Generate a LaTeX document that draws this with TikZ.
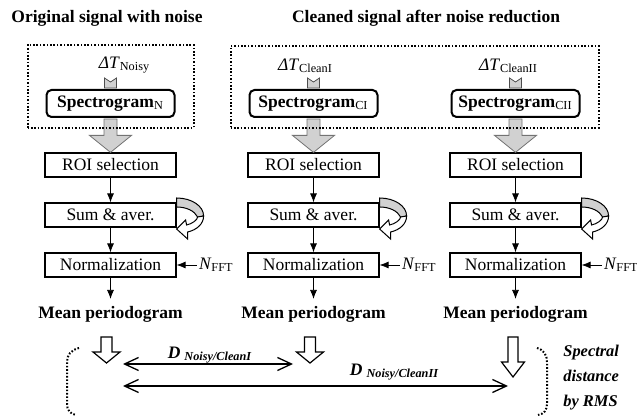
\documentclass[tikz,border=0pt]{standalone}
\usepackage{fontspec}
\setmainfont{Liberation Serif}
\usetikzlibrary{positioning,fit,calc,arrows.meta}

\newcommand{\figsize}{\fontsize{8.75}{10.5}\selectfont}

\tikzset{
  stage/.style={draw, line width=0.6pt, minimum width=65.5pt, minimum height=12pt, inner sep=0pt, font=\figsize},
  specbox/.style={draw, line width=1pt, rounded corners=2.5pt, minimum width=64pt, minimum height=13.5pt, inner sep=0pt, font=\figsize\bfseries},
  heading/.style={font=\figsize\bfseries},
  plain/.style={font=\figsize, inner sep=1pt},
  dlabel/.style={font=\figsize\bfseries\itshape, inner sep=1pt},
  rms/.style={font=\fontsize{8.2}{12.5}\selectfont\bfseries\itshape, align=left, inner sep=1pt},
  dotbox/.style={draw, line width=1pt, dash pattern=on 0.8pt off 0.9pt, inner xsep=9pt, inner ysep=5pt},
  bracket/.style={line width=1pt, dash pattern=on 0.8pt off 0.9pt},
  fatlink/.style={fill=black!18, draw=black!55, line width=0.4pt,
    to path={($(\tikztostart.south)+(-6.5,-1)$) -- ($(\tikztotarget.north)+(-6.5,17)$)
      -- ++(-14.5,0) -- (\tikztotarget.north) -- ++(21,17) -- ++(-14.5,0)
      -- ($(\tikztostart.south)+(6.5,-1)$) -- cycle}},
  taillink/.style={fill=black!18, draw=black!70, line width=0.4pt,
    to path={($(\tikztotarget.north)+(-6,1)$) -- ++(0,10) -- ++(6,-4) -- ++(6,4) -- ++(0,-10) -- cycle}},
  distarrow/.style={line width=0.65pt, {Straight Barb[length=7pt,width=6.5pt]}-{Straight Barb[length=7pt,width=6.5pt]}},
  pics/loopback/.style={code={
    \draw[fill=black!18, line width=0.5pt] (0,17) .. controls (15,17) and (27,9) .. (27,-1) -- (21,-2) .. controls (18,4) and (10,8) .. (0,8) -- cycle;
    \draw[fill=white, line width=0.5pt] (27,-1) .. controls (27,-9) and (20,-15) .. (11,-17) -- (11,-24) -- (0,-14) -- (9,-5) -- (10,-10) .. controls (15,-9) and (21,-5) .. (21,-2) -- cycle;
  }},
  pics/hollow/.style n args={4}{code={
    \draw[fill=white, line width=0.6pt] (-#3,0) -- (-#3,-#1) -- (-#4,-#1) -- (0,-#1-#2) -- (#4,-#1) -- (#3,-#1) -- (#3,0) -- cycle;
    \coordinate (-tip) at (0,-#1-#2);
  }}
}

\begin{document}
\begin{tikzpicture}[x=0.5pt,y=0.5pt,node distance=25pt,>={Latex[length=4.5pt,width=3.5pt]}]
    \useasboundingbox (0,0) rectangle (637,-416);

    \node[heading] (title1) at (107,-18) {Original signal with noise};
    \node[heading] (title2) at (426,-18) {Cleaned signal after noise reduction};

    \node[stage] (roi1) at (110.5,-165) {ROI selection};
    \node[stage] (roi2) [right of=roi1, node distance=101.5pt] {ROI selection};
    \node[stage] (roi3) [right of=roi2, node distance=101pt] {ROI selection};

    \node[specbox] (spec1) [above of=roi1, node distance=30.75pt] {Spectrogram\textsubscript{\mdseries N}};
    \node[specbox] (spec2) [above of=roi2, node distance=30.75pt] {Spectrogram\textsubscript{\mdseries CI}};
    \node[specbox] (spec3) [above of=roi3, node distance=30.75pt] {Spectrogram\textsubscript{\mdseries CII}};

    \node[plain] (dT1) [above of=spec1, node distance=19pt, xshift=7pt] {\textit{ΔT}\textsubscript{Noisy}};
    \node[plain] (dT2) [above of=spec2, node distance=19pt, xshift=-4pt] {\textit{ΔT}\textsubscript{CleanI}};
    \node[plain] (dT3) [above of=spec3, node distance=19pt, xshift=-3.5pt] {\textit{ΔT}\textsubscript{CleanII}};

    \node[stage] (sum1) [below of=roi1] {Sum \& aver.};
    \node[stage] (sum2) [below of=roi2] {Sum \& aver.};
    \node[stage] (sum3) [below of=roi3] {Sum \& aver.};

    \node[stage] (norm1) [below of=sum1] {Normalization};
    \node[stage] (norm2) [below of=sum2] {Normalization};
    \node[stage] (norm3) [below of=sum3] {Normalization};

    \node[plain] (nfft1) [right=10pt of norm1] {\textit{N}\textsubscript{FFT}};
    \node[plain] (nfft2) [right=10pt of norm2] {\textit{N}\textsubscript{FFT}};
    \node[plain] (nfft3) [right=10pt of norm3] {\textit{N}\textsubscript{FFT}};

    \node[heading] (mean1) [below of=norm1, node distance=24.5pt] {Mean periodogram};
    \node[heading] (mean2) [below of=norm2, node distance=24.5pt] {Mean periodogram};
    \node[heading] (mean3) [below of=norm3, node distance=24.5pt] {Mean periodogram};

    \draw[taillink] (dT1) to (spec1);
    \draw[taillink] (dT2) to (spec2);
    \draw[taillink] (dT3) to (spec3);

    \draw[fatlink] (spec1) to (roi1);
    \draw[fatlink] (spec2) to (roi2);
    \draw[fatlink] (spec3) to (roi3);

    \node[dotbox, fit=(dT1)(spec1)] (grp1) {};
    \node[dotbox, fit=(dT2)(spec2)(spec3)(dT3)] (grp2) {};

    \draw[->] (roi1) -- (sum1);
    \draw[->] (sum1) -- (norm1);
    \draw[->] (norm1) -- (mean1);
    \draw[->] (nfft1) -- (norm1);
    \draw[->] (roi2) -- (sum2);
    \draw[->] (sum2) -- (norm2);
    \draw[->] (norm2) -- (mean2);
    \draw[->] (nfft2) -- (norm2);
    \draw[->] (roi3) -- (sum3);
    \draw[->] (sum3) -- (norm3);
    \draw[->] (norm3) -- (mean3);
    \draw[->] (nfft3) -- (norm3);

    \pic at (sum1.east) {loopback};
    \pic at (sum2.east) {loopback};
    \pic at (sum3.east) {loopback};

    % spectral distances
    \pic (h1) at (106.5,-337) {hollow={15}{11}{5.5}{13.5}};
    \pic (h2) at (310,-337) {hollow={15}{11}{5.5}{13.5}};
    \pic (h3) at (513,-337) {hollow={25}{15}{5}{11.5}};

    \node[dlabel] (d1) at (210,-355) {D\hspace{2pt}\textsubscript{Noisy/CleanI}};
    \node[dlabel] (d2) at (394.5,-372) {D\hspace{2pt}\textsubscript{Noisy/CleanII}};

    \draw[distarrow] ([shift={(16.5,-1)}]h1-tip) -- ([shift={(-17,-1)}]h2-tip);
    \draw[distarrow] ([shift={(16.5,-23)}]h1-tip) -- ([shift={(-5,-9)}]h3-tip);

    \draw[bracket] (79,-348) .. controls (71,-350) and (67,-355) .. (67,-362) -- (67,-404) .. controls (67,-410) and (70,-414) .. (76,-415);
    \draw[bracket] (537,-348) .. controls (544,-350) and (547,-355) .. (547,-362) -- (547,-404) .. controls (547,-410) and (544,-414) .. (538,-415);

    \node[rms, anchor=west] (rms) at (561,-378) {Spectral\\distance\\by RMS};
\end{tikzpicture}
\end{document}
